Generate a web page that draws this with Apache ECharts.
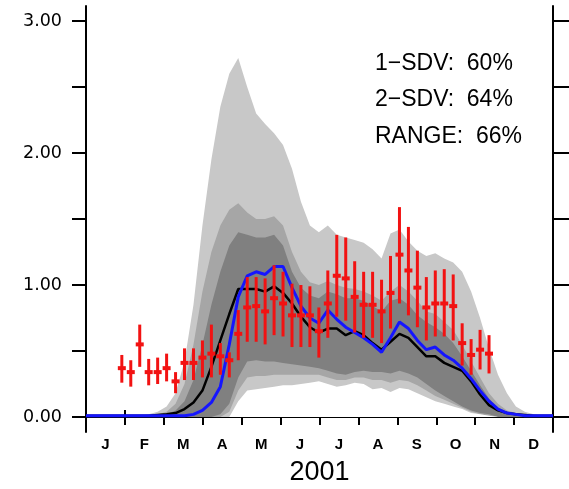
<!DOCTYPE html>
<html><head><meta charset="utf-8">
<script src="https://cdn.jsdelivr.net/npm/echarts@6/dist/echarts.min.js"></script>
<style>html,body{margin:0;padding:0;background:#fff}#c{width:569px;height:489px}</style>
</head><body><div id="c"></div>
<script>
const months = ['J','F','M','A','M','J','J','A','S','O','N','D'];
const yearLabel = '2001';
const statsText = ['1\u2212SDV:  60%', '2\u2212SDV:  64%', 'RANGE:  66%'];

// model curve days (weekly)
const days = [0,7,14,21,28,35,42,49,56,63,70,77,84,91,98,105,112,119,126,133,140,147,154,161,168,175,182,189,196,203,210,217,224,231,238,245,252,259,266,273,280,287,294,301,308,315,322,329,336,343,350,357,364,365];
const rangeUp = [0.01,0.01,0.01,0.01,0.01,0.01,0.01,0.02,0.04,0.08,0.18,0.42,0.85,1.45,1.95,2.35,2.6,2.72,2.5,2.3,2.22,2.15,2.06,1.88,1.63,1.45,1.40,1.45,1.38,1.36,1.34,1.32,1.27,1.20,1.39,1.42,1.33,1.26,1.22,1.24,1.20,1.17,1.10,0.95,0.75,0.52,0.32,0.18,0.08,0.04,0.02,0.01,0.01,0.01];
const sd2Up = [0.01,0.01,0.01,0.01,0.01,0.01,0.01,0.01,0.02,0.04,0.1,0.25,0.55,0.95,1.25,1.45,1.57,1.62,1.55,1.5,1.5,1.52,1.45,1.25,1.1,1.02,1.0,1.03,1.0,0.98,0.97,0.95,0.92,0.88,0.95,1.0,0.95,0.88,0.8,0.78,0.72,0.66,0.55,0.42,0.3,0.18,0.1,0.05,0.03,0.02,0.01,0.01,0.01,0.01];
const sd1Up = [0.01,0.01,0.01,0.01,0.01,0.01,0.01,0.01,0.01,0.02,0.05,0.12,0.28,0.55,0.85,1.1,1.3,1.4,1.38,1.36,1.36,1.38,1.3,1.1,0.98,0.92,0.9,0.95,0.93,0.9,0.9,0.88,0.84,0.8,0.88,0.9,0.85,0.77,0.72,0.68,0.63,0.56,0.46,0.35,0.24,0.14,0.07,0.04,0.02,0.01,0.01,0.01,0.01,0.01];
const sd1Lo = [0,0,0,0,0,0,0,0,0,0,0,0,0,0,0,0.02,0.1,0.3,0.42,0.43,0.42,0.42,0.41,0.40,0.39,0.38,0.37,0.35,0.33,0.32,0.34,0.35,0.34,0.34,0.33,0.35,0.33,0.3,0.25,0.2,0.16,0.12,0.08,0.05,0.03,0.02,0,0,0,0,0,0,0,0];
const sd2Lo = [0,0,0,0,0,0,0,0,0,0,0,0,0,0,0,0,0.04,0.2,0.3,0.31,0.31,0.32,0.32,0.32,0.32,0.32,0.32,0.3,0.28,0.28,0.3,0.3,0.28,0.28,0.26,0.28,0.27,0.24,0.2,0.16,0.13,0.1,0.07,0.04,0.02,0.01,0,0,0,0,0,0,0,0];
const rangeLo = [0,0,0,0,0,0,0,0,0,0,0,0,0,0,0,0,0,0.12,0.2,0.21,0.22,0.23,0.24,0.24,0.25,0.26,0.27,0.25,0.23,0.24,0.26,0.25,0.21,0.22,0.19,0.22,0.21,0.18,0.15,0.12,0.1,0.08,0.06,0.03,0.02,0.01,0,0,0,0,0,0,0,0];
const meanLine = [0.01,0.01,0.01,0.01,0.01,0.01,0.01,0.01,0.015,0.02,0.03,0.06,0.11,0.2,0.38,0.58,0.78,0.97,0.97,0.97,0.95,0.99,0.94,0.86,0.76,0.68,0.64,0.67,0.67,0.62,0.65,0.62,0.56,0.51,0.57,0.63,0.60,0.53,0.46,0.46,0.41,0.38,0.35,0.27,0.17,0.09,0.05,0.03,0.02,0.015,0.01,0.01,0.01,0.01];
const blueLine = [0.01,0.01,0.01,0.01,0.01,0.01,0.01,0.01,0.01,0.01,0.01,0.01,0.02,0.05,0.11,0.23,0.55,0.91,1.07,1.10,1.08,1.14,1.14,0.98,0.84,0.75,0.71,0.81,0.74,0.68,0.64,0.60,0.55,0.49,0.60,0.72,0.67,0.58,0.51,0.53,0.47,0.43,0.37,0.29,0.20,0.12,0.06,0.03,0.02,0.01,0.01,0.01,0.01,0.01];

// weekly observations
const obsDays = [28,35,42,49,56,63,70,77,84,91,98,105,112,119,126,133,140,147,154,161,168,175,182,189,196,203,210,217,224,231,238,245,252,259,266,273,280,287,294,301,308,315];
const obsMid = [0.37,0.34,0.55,0.34,0.34,0.37,0.27,0.41,0.41,0.45,0.48,0.46,0.43,0.63,0.83,0.84,0.80,0.90,0.86,0.77,0.77,0.77,0.65,0.86,1.07,1.05,0.91,0.85,0.85,0.80,0.94,1.23,1.11,0.98,0.83,0.86,0.86,0.84,0.56,0.47,0.51,0.48];
const obsLo = [0.26,0.23,0.38,0.24,0.25,0.27,0.18,0.28,0.28,0.30,0.30,0.32,0.30,0.43,0.57,0.57,0.55,0.62,0.61,0.53,0.53,0.53,0.45,0.60,0.76,0.73,0.64,0.60,0.60,0.56,0.67,0.86,0.77,0.68,0.58,0.61,0.61,0.58,0.39,0.32,0.36,0.33];
const obsHi = [0.47,0.43,0.70,0.44,0.45,0.48,0.34,0.52,0.52,0.58,0.70,0.56,0.49,0.81,1.06,1.06,1.05,1.15,1.10,1.01,1.00,0.99,0.83,1.11,1.38,1.36,1.18,1.10,1.10,1.04,1.22,1.59,1.44,1.26,1.06,1.11,1.12,1.08,0.71,0.59,0.66,0.62];

const pair = arr => days.map((d, i) => [d, arr[i]]);
const obsData = obsDays.map((d, i) => [d, obsMid[i], obsLo[i], obsHi[i]]);

const C_RANGE = '#c8c8c8', C_SD2 = '#a6a6a6', C_SD1 = '#808080';
function band(name, arr, color, z) {
  return { name, type: 'line', xAxisIndex: 2, yAxisIndex: 0, data: pair(arr), symbol: 'none',
    lineStyle: { width: 0 }, areaStyle: { color, opacity: 1, origin: 'start' }, z, silent: true };
}

const chart = echarts.init(document.getElementById('c'), null, { renderer: 'canvas' });
const axisBlack = { lineStyle: { color: '#000', width: 2 } };
chart.setOption({
  animation: false,
  backgroundColor: '#fff',
  grid: [
    { left: 86, right: 16, top: 21, bottom: 72, containLabel: false, outerBoundsMode: 'none' },
    { left: 86, right: 16, top: 6, bottom: 57, containLabel: false, outerBoundsMode: 'none' }
  ],
  xAxis: [
    { type: 'category', gridIndex: 0, position: 'bottom', data: months, boundaryGap: true,
      axisLine: { show: true, ...axisBlack },
      axisTick: { show: true, length: 8, interval: 0, alignWithLabel: false, lineStyle: { color: '#000', width: 2 } },
      axisLabel: { interval: 0, margin: 20, color: '#000', fontFamily: 'Liberation Sans', fontWeight: 'bold', fontSize: 15 },
      splitLine: { show: false },
      name: yearLabel, nameLocation: 'middle', nameGap: 42,
      nameTextStyle: { color: '#000', fontFamily: 'Liberation Sans', fontSize: 27 } },
    { type: 'category', gridIndex: 0, position: 'top', data: months, boundaryGap: true,
      axisLine: { show: true, ...axisBlack },
      axisTick: { show: true, length: 7, interval: 0, lineStyle: { color: '#000', width: 2 } },
      axisLabel: { show: false }, splitLine: { show: false } },
    { type: 'value', gridIndex: 0, min: 0, max: 365, show: false },
    { type: 'value', gridIndex: 1, min: 0, max: 1, show: false }
  ],
  yAxis: [
    { type: 'value', gridIndex: 0, position: 'left', min: 0, max: 3, interval: 0.5,
      axisLine: { show: true, ...axisBlack },
      axisTick: { show: true, length: 14, lineStyle: { color: '#000', width: 2 } },
      axisLabel: { margin: 24, color: '#000', fontFamily: 'DejaVu Sans', fontSize: 17.5,
        formatter: v => (Math.abs(v - Math.round(v)) < 1e-9 ? v.toFixed(2) : '') },
      splitLine: { show: false } },
    { type: 'value', gridIndex: 0, position: 'right', min: 0, max: 3, interval: 0.5,
      axisLine: { show: true, ...axisBlack },
      axisTick: { show: true, length: 16, lineStyle: { color: '#000', width: 2 } },
      axisLabel: { show: false }, splitLine: { show: false } },
    { type: 'value', gridIndex: 1, position: 'left', min: 0, max: 1,
      axisLine: { show: true, ...axisBlack }, axisTick: { show: false }, axisLabel: { show: false }, splitLine: { show: false } },
    { type: 'value', gridIndex: 1, position: 'right', min: 0, max: 1,
      axisLine: { show: true, ...axisBlack }, axisTick: { show: false }, axisLabel: { show: false }, splitLine: { show: false } }
  ],
  series: [
    band('range', rangeUp, C_RANGE, 1),
    band('sd2', sd2Up, C_SD2, 2),
    band('sd1', sd1Up, C_SD1, 3),
    band('sd1lo', sd1Lo, C_SD2, 4),
    band('sd2lo', sd2Lo, C_RANGE, 5),
    band('rangelo', rangeLo, '#ffffff', 6),
    { name: 'mean', type: 'line', xAxisIndex: 2, yAxisIndex: 0, data: pair(meanLine), symbol: 'none',
      lineStyle: { color: '#000', width: 2.5 }, z: 7, silent: true },
    { name: 'model', type: 'line', xAxisIndex: 2, yAxisIndex: 0, data: pair(blueLine), symbol: 'none',
      lineStyle: { color: '#1515ff', width: 3 }, z: 8, silent: true },
    { name: 'obs', type: 'custom', xAxisIndex: 2, yAxisIndex: 0, data: obsData, z: 9, silent: true,
      encode: { x: 0, y: [1, 2, 3] },
      renderItem: (params, api) => {
        const x = api.value(0);
        const pLo = api.coord([x, api.value(2)]);
        const pHi = api.coord([x, api.value(3)]);
        const pM = api.coord([x, api.value(1)]);
        return { type: 'group', children: [
          { type: 'line', shape: { x1: pLo[0], y1: pLo[1], x2: pHi[0], y2: pHi[1] }, style: { stroke: '#f21212', lineWidth: 3 } },
          { type: 'rect', shape: { x: pM[0] - 4, y: pM[1] - 2, width: 8, height: 4 }, style: { fill: '#f21212' } }
        ] };
      } }
  ],
  graphic: statsText.map((t, i) => ({
    type: 'text', left: 375, top: 52 + i * 36.5, z: 20,
    style: { text: t, fill: '#000', font: '23px "Liberation Sans"' }
  }))
});
</script></body></html>
